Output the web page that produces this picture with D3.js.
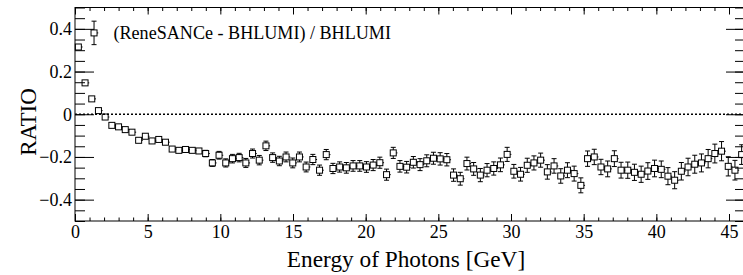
<!DOCTYPE html>
<html>
    <head>
        <title>ReneSANCe vs BHLUMI ratio</title>
        <script src="https://d3js.org/d3.v7.min.js"></script>
        <style>
            body { margin: 0; background: #fff; }
            .axis line { stroke: #000; stroke-width: 1; }
        </style>
    </head>
    <body>
        <script>
            // ratio per energy bin (100 bins)
            const ratio = [
                0.315, 0.147, 0.072, 0.017, -0.013, -0.052, -0.059, -0.072, -0.084, -0.122,
                -0.103, -0.125, -0.118, -0.131, -0.163, -0.169, -0.165, -0.169, -0.172, -0.184,
                -0.228, -0.192, -0.228, -0.208, -0.203, -0.228, -0.184, -0.215, -0.148, -0.203,
                -0.219, -0.200, -0.228, -0.200, -0.247, -0.212, -0.262, -0.189, -0.254, -0.247,
                -0.251, -0.242, -0.242, -0.247, -0.238, -0.227, -0.283, -0.181, -0.244, -0.248,
                -0.225, -0.236, -0.218, -0.206, -0.209, -0.213, -0.285, -0.302, -0.231, -0.256,
                -0.285, -0.262, -0.254, -0.237, -0.188, -0.267, -0.281, -0.239, -0.228, -0.215,
                -0.270, -0.242, -0.289, -0.262, -0.278, -0.333, -0.208, -0.200, -0.247, -0.256,
                -0.208, -0.262, -0.262, -0.272, -0.281, -0.266, -0.254, -0.258, -0.290, -0.309,
                -0.267, -0.247, -0.234, -0.228, -0.208, -0.184, -0.173, -0.244, -0.262, -0.189
            ];
            // statistical errors of the ratio
            const ratioErr = [
                0.004, 0.004, 0.004, 0.005, 0.005, 0.005, 0.006, 0.006, 0.006, 0.007,
                0.007, 0.008, 0.008, 0.009, 0.010, 0.011, 0.012, 0.013, 0.014, 0.015,
                0.016, 0.018, 0.019, 0.020, 0.020, 0.021, 0.021, 0.022, 0.022, 0.022,
                0.022, 0.023, 0.023, 0.023, 0.023, 0.024, 0.024, 0.024, 0.024, 0.024,
                0.025, 0.025, 0.025, 0.025, 0.026, 0.026, 0.026, 0.026, 0.027, 0.027,
                0.027, 0.028, 0.028, 0.028, 0.029, 0.029, 0.029, 0.030, 0.030, 0.030,
                0.031, 0.031, 0.031, 0.032, 0.033, 0.032, 0.032, 0.033, 0.033, 0.033,
                0.034, 0.034, 0.034, 0.035, 0.035, 0.035, 0.036, 0.036, 0.036, 0.037,
                0.037, 0.037, 0.038, 0.038, 0.038, 0.039, 0.039, 0.039, 0.040, 0.040,
                0.041, 0.041, 0.042, 0.042, 0.043, 0.044, 0.045, 0.045, 0.046, 0.046
            ];
            // one extra point with a large error near 1.3 GeV
            const extraE = [1.31];
            const extraRatio = [0.381];
            const extraErr = [0.055];

            const E_MAX = 46.1;
            const N_BINS = ratio.length;
            const binWidth = E_MAX / N_BINS;

            const xTicks = [0, 5, 10, 15, 20, 25, 30, 35, 40, 45];
            const yTicks = [-0.4, -0.2, 0, 0.2, 0.4];
            const yTickLabels = ["\u22120.4", "\u22120.2", "0", "0.2", "0.4"];

            const FONT = "Liberation Serif";
            const WIDTH = 743, HEIGHT = 275;
            const padLeft = 75, padRight = 745, padTop = 7.5, padBottom = 221;

            const svg = d3.select("body").append("svg")
                .attr("width", WIDTH)
                .attr("height", HEIGHT);

            const x = d3.scaleLinear().domain([0, E_MAX]).range([padLeft, padRight]);
            const y = d3.scaleLinear().domain([-0.5, 0.5]).range([padBottom, padTop]);

            const points = ratio.map((v, i) => ({ e: (i + 0.5) * binWidth, v: v, err: ratioErr[i] }));
            extraE.forEach((e, i) => points.push({ e: e, v: extraRatio[i], err: extraErr[i] }));

            // minor tick positions
            const xMinor = d3.range(0, 47, 1);
            const yMinor = d3.range(-10, 11).map(k => k * 0.05);

            // bottom axis
            svg.append("g").attr("class", "axis")
                .attr("transform", "translate(0," + padBottom + ")")
                .call(d3.axisBottom(x).tickValues(xMinor).tickSize(-3.5).tickFormat(""))
                .call(g => g.select(".domain").remove());
            svg.append("g").attr("class", "axis")
                .attr("transform", "translate(0," + padBottom + ")")
                .call(d3.axisBottom(x).tickValues(xTicks).tickSize(-7).tickPadding(4).tickFormat(d3.format("d")))
                .attr("font-family", FONT).attr("font-size", 18)
                .call(g => g.select(".domain").remove());

            // top axis (ticks only)
            svg.append("g").attr("class", "axis")
                .attr("transform", "translate(0," + padTop + ")")
                .call(d3.axisTop(x).tickValues(xMinor).tickSize(-3.5).tickFormat(""))
                .call(g => g.select(".domain").remove());
            svg.append("g").attr("class", "axis")
                .attr("transform", "translate(0," + padTop + ")")
                .call(d3.axisTop(x).tickValues(xTicks).tickSize(-7).tickFormat(""))
                .call(g => g.select(".domain").remove());

            // left axis
            svg.append("g").attr("class", "axis")
                .attr("transform", "translate(" + padLeft + ",0)")
                .call(d3.axisLeft(y).tickValues(yMinor).tickSize(-10).tickFormat(""))
                .call(g => g.select(".domain").remove());
            svg.append("g").attr("class", "axis")
                .attr("transform", "translate(" + padLeft + ",0)")
                .call(d3.axisLeft(y).tickValues(yTicks).tickSize(-19).tickPadding(3)
                    .tickFormat((d, i) => yTickLabels[i]))
                .attr("font-family", FONT).attr("font-size", 18)
                .call(g => g.select(".domain").remove());

            // right axis (ticks only)
            svg.append("g").attr("class", "axis")
                .attr("transform", "translate(" + padRight + ",0)")
                .call(d3.axisRight(y).tickValues(yMinor).tickSize(-10).tickFormat(""))
                .call(g => g.select(".domain").remove());
            svg.append("g").attr("class", "axis")
                .attr("transform", "translate(" + padRight + ",0)")
                .call(d3.axisRight(y).tickValues(yTicks).tickSize(-19).tickFormat(""))
                .call(g => g.select(".domain").remove());

            // frame
            svg.append("rect")
                .attr("x", padLeft).attr("y", padTop)
                .attr("width", padRight - padLeft).attr("height", padBottom - padTop)
                .style("fill", "none").style("stroke", "#000").style("stroke-width", 1);

            // zero line
            svg.append("line")
                .attr("x1", padLeft).attr("x2", padRight)
                .attr("y1", y(0)).attr("y2", y(0))
                .style("stroke", "#000").style("stroke-width", 1.5)
                .style("stroke-dasharray", "2,2");

            // error bars + open square markers
            const half = 3, cap = 2.5;
            const pts = svg.append("g").attr("id", "points");
            const eb = pts.selectAll(".err").data(points).enter().append("g").attr("class", "err")
                .style("stroke", "#000").style("stroke-width", 1).style("fill", "none");
            eb.filter(d => y(d.v + d.err) < y(d.v) - half).each(function(d) {
                const g = d3.select(this);
                const cx = x(d.e), cy = y(d.v);
                g.append("line").attr("x1", cx).attr("x2", cx).attr("y1", y(d.v + d.err)).attr("y2", cy - half);
                g.append("line").attr("x1", cx).attr("x2", cx).attr("y1", cy + half).attr("y2", y(d.v - d.err));
                g.append("line").attr("x1", cx - cap).attr("x2", cx + cap).attr("y1", y(d.v + d.err)).attr("y2", y(d.v + d.err));
                g.append("line").attr("x1", cx - cap).attr("x2", cx + cap).attr("y1", y(d.v - d.err)).attr("y2", y(d.v - d.err));
            });
            // small horizontal bin-width stubs
            eb.append("line")
                .attr("x1", d => x(d.e) + half).attr("x2", d => x(d.e) + half + 1.2)
                .attr("y1", d => y(d.v)).attr("y2", d => y(d.v));
            pts.selectAll(".marker").data(points).enter().append("rect")
                .attr("class", "marker")
                .attr("x", d => x(d.e) - half)
                .attr("y", d => y(d.v) - half)
                .attr("width", half * 2).attr("height", half * 2)
                .style("fill", "none").style("stroke", "#000").style("stroke-width", 1);

            // labels
            svg.append("text")
                .attr("x", 113.5).attr("y", 38.5)
                .attr("font-family", FONT).attr("font-size", 18.1)
                .text("(ReneSANCe - BHLUMI) / BHLUMI");

            svg.append("text")
                .attr("transform", "translate(36," + 122 + ") rotate(-90)")
                .attr("text-anchor", "middle")
                .attr("font-family", FONT).attr("font-size", 23)
                .text("RATIO");

            svg.append("text")
                .attr("x", 406).attr("y", 267)
                .attr("text-anchor", "middle")
                .attr("font-family", FONT).attr("font-size", 23.3)
                .text("Energy of Photons [GeV]");
        </script>
    </body>
</html>
